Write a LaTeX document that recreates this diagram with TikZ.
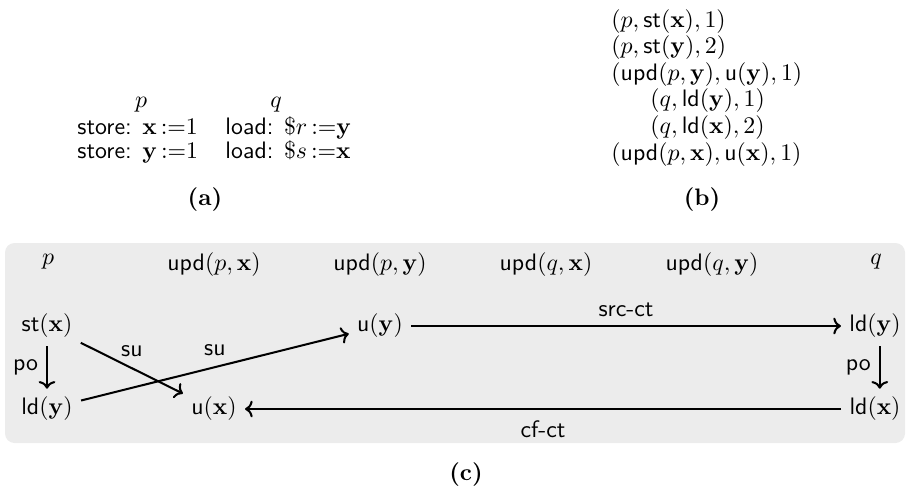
\documentclass[tikz,border=0pt]{standalone}
\usetikzlibrary{arrows.meta}
\begin{document}
\begin{tikzpicture}[x=0.42pt,y=-0.42pt,
  txt/.style={inner sep=0pt,anchor=base west},
  sublbl/.style={inner sep=0pt,anchor=base,font=\bfseries},
  ev/.style={font=\sffamily},
  hd/.style={font=\sffamily},
  arr/.style={-{To[length=3.2pt,width=7pt]},line width=0.85pt},
  elbl/.style={font=\sffamily}]
\useasboundingbox (0,0) rectangle (910,486);
% (a)
\node[txt,anchor=base] (ap) at (141,107) {$p$};
\node[txt,anchor=base] (aq) at (276,107) {$q$};
\node[txt] (a1) at (77,134) {\sffamily store: $\mathbf{x}\,{:}{=}1$};
\node[txt] (a2) at (77,158) {\sffamily store: $\mathbf{y}\,{:}{=}1$};
\node[txt] (a3) at (225,134) {\sffamily load: $\$r\,{:}{=}\mathbf{y}$};
\node[txt] (a4) at (225,158) {\sffamily load: $\$s\,{:}{=}\mathbf{x}$};
\node[sublbl] (capa) at (205,205) {(a)};
% (b)
\node[txt] (b1) at (611,27) {$(p,\mathsf{st}(\mathbf{x}),1)$};
\node[txt] (b2) at (611,53.6) {$(p,\mathsf{st}(\mathbf{y}),2)$};
\node[txt] (b3) at (611,80.2) {$(\mathsf{upd}(p,\mathbf{y}),\mathsf{u}(\mathbf{y}),1)$};
\node[txt] (b4) at (650,106.8) {$(q,\mathsf{ld}(\mathbf{y}),1)$};
\node[txt] (b5) at (650,133.4) {$(q,\mathsf{ld}(\mathbf{x}),2)$};
\node[txt] (b6) at (611,160) {$(\mathsf{upd}(p,\mathbf{x}),\mathsf{u}(\mathbf{x}),1)$};
\node[sublbl] (capb) at (702,205) {(b)};
% (c)
\fill[gray!15,rounded corners=4pt] (5,243) rectangle (905,443);
\node[hd] (hp) at (48,262) {$p$};
\node[hd] (h1) at (214,265) {$\mathsf{upd}(p,\mathbf{x})$};
\node[hd] (h2) at (380,265) {$\mathsf{upd}(p,\mathbf{y})$};
\node[hd] (h3) at (546,265) {$\mathsf{upd}(q,\mathbf{x})$};
\node[hd] (h4) at (712,265) {$\mathsf{upd}(q,\mathbf{y})$};
\node[hd] (hq) at (876,262) {$q$};
\node[ev] (stx) at (47,326) {$\mathsf{st}(\mathbf{x})$};
\node[ev] (ldyp) at (47,409) {$\mathsf{ld}(\mathbf{y})$};
\node[ev] (uy) at (380,326) {$\mathsf{u}(\mathbf{y})$};
\node[ev] (ux) at (214,409) {$\mathsf{u}(\mathbf{x})$};
\node[ev] (ldyq) at (875,326) {$\mathsf{ld}(\mathbf{y})$};
\node[ev] (ldxq) at (875,409) {$\mathsf{ld}(\mathbf{x})$};
\draw[arr] (stx) -- node[elbl,left] {po} (ldyp);
\draw[arr] (stx) -- node[elbl,above=1pt] {su} (ux);
\draw[arr] (ldyp) -- node[elbl,above=1pt] {su} (uy);
\draw[arr] (uy) -- node[elbl,above] {src-ct} (ldyq);
\draw[arr] (ldxq) -- node[elbl,below=1pt] {cf-ct} (ux);
\draw[arr] ([xshift=2pt]ldyq.south) -- node[elbl,left] {po} ([xshift=2pt]ldxq.north);
\node[sublbl] (capc) at (466,480) {(c)};
\end{tikzpicture}
\end{document}
